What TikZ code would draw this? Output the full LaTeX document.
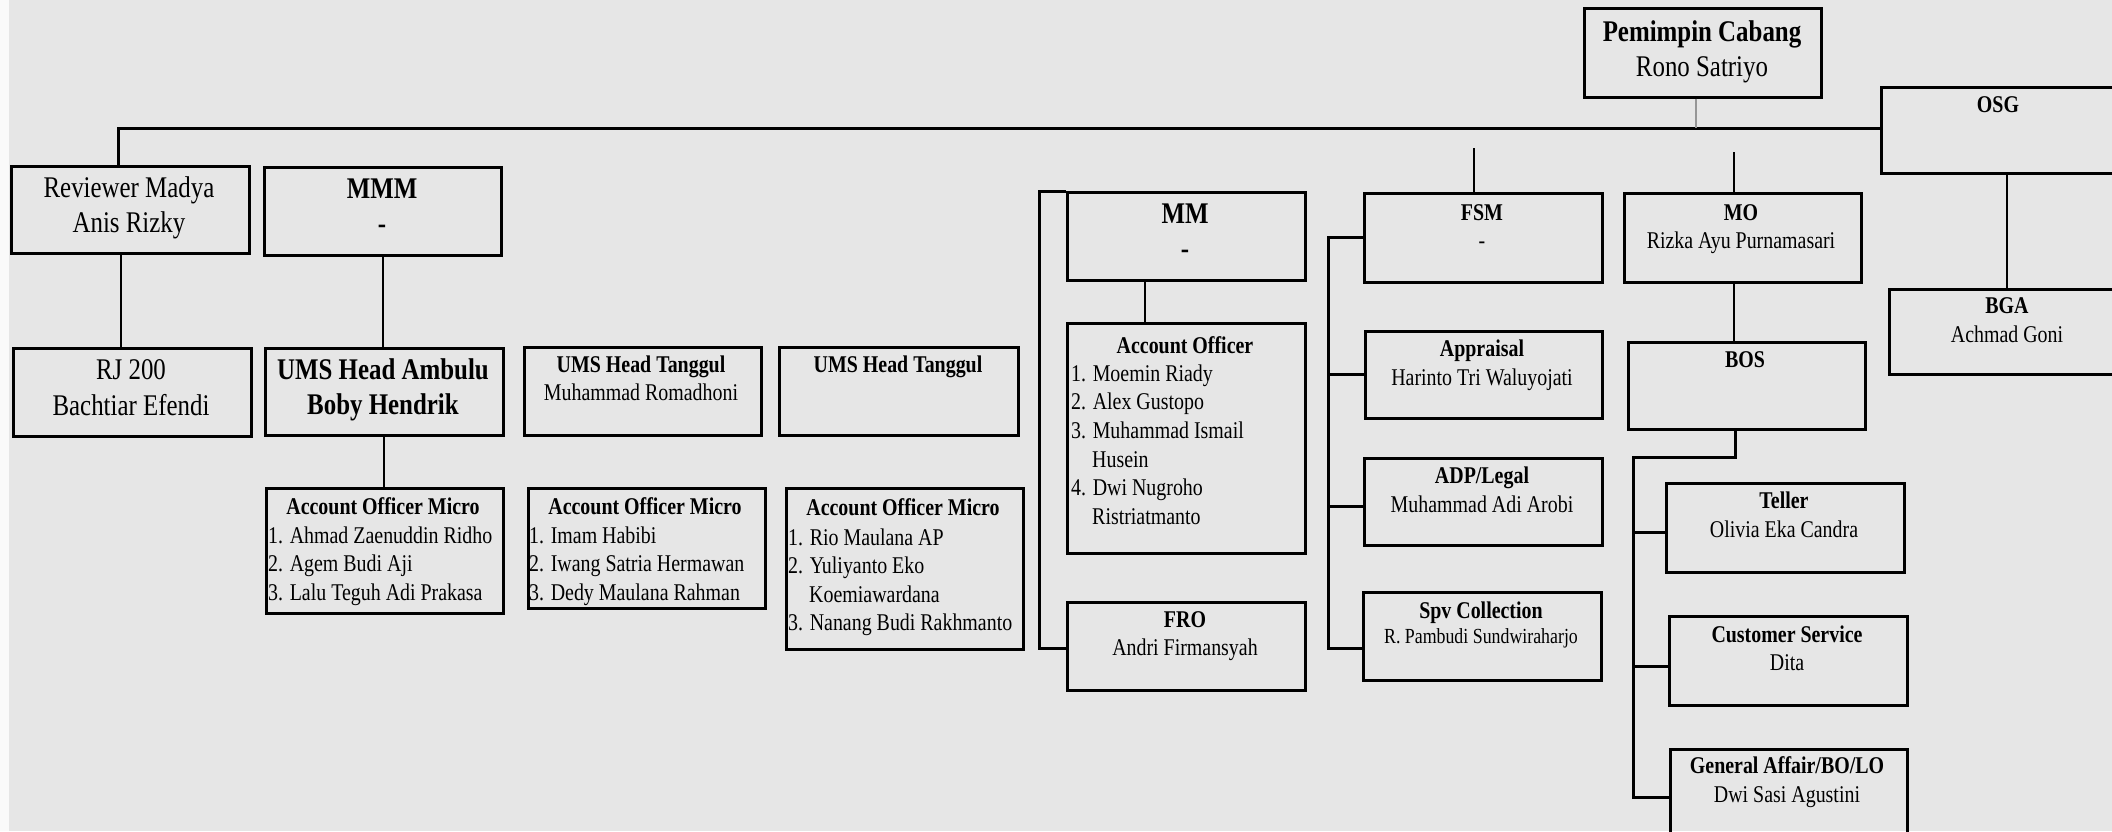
\documentclass[tikz,border=0pt]{standalone}
\usepackage{fontspec}
\setmainfont{Liberation Serif}[FakeStretch=0.83]
\begin{document}
\begin{tikzpicture}[x=1pt,y=-1pt,
  box/.style={draw=black, line width=2.6pt, inner sep=0pt, anchor=north west},
  conn/.style={draw=black, line width=2.4pt},
  bus/.style={draw=black, line width=3pt},
  tx/.style={inner sep=0pt, anchor=base, text=black},
  lst/.style={inner sep=0pt, anchor=base west, text=black},
  lg/.style={font=\fontsize{30}{35}\selectfont},
  sm/.style={font=\fontsize{24}{28.7}\selectfont},
  xs/.style={font=\fontsize{21.5}{25}\selectfont}]
\useasboundingbox (0,0) rectangle (2112,831);
\clip (0,0) rectangle (2112,831);
\fill[fill={rgb,255:red,230;green,230;blue,230}] (0,0) rectangle (2112,831);
\fill[fill={rgb,255:red,250;green,250;blue,250}] (0,0) rectangle (9,831);

% ---- boxes ----
\node[box, minimum width=237pt, minimum height=89pt] (pc) at (1583,7) {};
\node[box, minimum width=240pt, minimum height=86pt] (osg) at (1880,86) {};
\node[box, minimum width=240pt, minimum height=85pt] (bga) at (1888,288) {};
\node[box, minimum width=238pt, minimum height=87pt] (rev) at (10,165) {};
\node[box, minimum width=237pt, minimum height=88pt] (mmm) at (263,166) {};
\node[box, minimum width=238pt, minimum height=88pt] (rj) at (12,347) {};
\node[box, minimum width=238pt, minimum height=87pt] (amb) at (264,347) {};
\node[box, minimum width=237pt, minimum height=88pt] (tg1) at (523,346) {};
\node[box, minimum width=239pt, minimum height=88pt] (tg2) at (778,346) {};
\node[box, minimum width=237pt, minimum height=125pt] (aom1) at (265,487) {};
\node[box, minimum width=237pt, minimum height=120pt] (aom2) at (527,487) {};
\node[box, minimum width=237pt, minimum height=161pt] (aom3) at (785,487) {};
\node[box, minimum width=238pt, minimum height=88pt] (mm) at (1066,191) {};
\node[box, minimum width=238pt, minimum height=230pt] (ao) at (1066,322) {};
\node[box, minimum width=238pt, minimum height=88pt] (fro) at (1066,601) {};
\node[box, minimum width=238pt, minimum height=89pt] (fsm) at (1363,192) {};
\node[box, minimum width=237pt, minimum height=89pt] (mo) at (1623,192) {};
\node[box, minimum width=237pt, minimum height=87pt] (apr) at (1364,330) {};
\node[box, minimum width=238pt, minimum height=87pt] (adp) at (1363,457) {};
\node[box, minimum width=238pt, minimum height=88pt] (spv) at (1362,591) {};
\node[box, minimum width=237pt, minimum height=87pt] (bos) at (1627,341) {};
\node[box, minimum width=238pt, minimum height=89pt] (tel) at (1665,482) {};
\node[box, minimum width=238pt, minimum height=89pt] (cs) at (1668,615) {};
\node[box, minimum width=237pt, minimum height=100pt] (ga) at (1669,748) {};

% ---- texts, one line per node ----
\node[tx, lg] (pc-1) at (1702,41) {\textbf{Pemimpin Cabang}};
\node[tx, lg] (pc-2) at (1702,76) {Rono Satriyo};
\node[tx, sm] (osg-1) at (1998,112) {\textbf{OSG}};
\node[tx, sm] (bga-1) at (2007,313) {\textbf{BGA}};
\node[tx, sm] (bga-2) at (2007,342) {Achmad Goni};
\node[tx, lg] (rev-1) at (129,197) {Reviewer Madya};
\node[tx, lg] (rev-2) at (129,232) {Anis Rizky};
\node[tx, lg] (mmm-1) at (382,198) {\textbf{MMM}};
\node[tx, lg] (mmm-2) at (382,233) {\textbf{-}};
\node[tx, lg] (rj-1) at (131,379) {RJ 200};
\node[tx, lg] (rj-2) at (131,415) {Bachtiar Efendi};
\node[tx, lg] (amb-1) at (383,379) {\textbf{UMS Head Ambulu}};
\node[tx, lg] (amb-2) at (383,414) {\textbf{Boby Hendrik}};
\node[tx, sm] (tg1-1) at (641,372) {\textbf{UMS Head Tanggul}};
\node[tx, sm] (tg1-2) at (641,400) {Muhammad Romadhoni};
\node[tx, sm] (tg2-1) at (898,372) {\textbf{UMS Head Tanggul}};

\node[tx, sm] (aom1-0) at (383,514) {\textbf{Account Officer Micro}};
\node[lst, sm] (aom1-1) at (268,543) {1. Ahmad Zaenuddin Ridho};
\node[lst, sm] (aom1-2) at (268,571.5) {2. Agem Budi Aji};
\node[lst, sm] (aom1-3) at (268,600) {3. Lalu Teguh Adi Prakasa};
\node[tx, sm] (aom2-0) at (645,514) {\textbf{Account Officer Micro}};
\node[lst, sm] (aom2-1) at (529,543) {1. Imam Habibi};
\node[lst, sm] (aom2-2) at (529,571.5) {2. Iwang Satria Hermawan};
\node[lst, sm] (aom2-3) at (529,600) {3. Dedy Maulana Rahman};
\node[tx, sm] (aom3-0) at (903,515) {\textbf{Account Officer Micro}};
\node[lst, sm] (aom3-1) at (788,545) {1. Rio Maulana AP};
\node[lst, sm] (aom3-2) at (788,573.5) {2. Yuliyanto Eko};
\node[lst, sm] (aom3-3) at (809,602) {Koemiawardana};
\node[lst, sm] (aom3-4) at (788,630.5) {3. Nanang Budi Rakhmanto};

\node[tx, lg] (mm-1) at (1185,223) {\textbf{MM}};
\node[tx, lg] (mm-2) at (1185,258) {\textbf{-}};
\node[tx, sm] (ao-0) at (1185,353) {\textbf{Account Officer}};
\node[lst, sm] (ao-1) at (1071,381) {1. Moemin Riady};
\node[lst, sm] (ao-2) at (1071,409.7) {2. Alex Gustopo};
\node[lst, sm] (ao-3) at (1071,438.4) {3. Muhammad Ismail};
\node[lst, sm] (ao-4) at (1092,467.1) {Husein};
\node[lst, sm] (ao-5) at (1071,495.8) {4. Dwi Nugroho};
\node[lst, sm] (ao-6) at (1092,524.5) {Ristriatmanto};
\node[tx, sm] (fro-1) at (1185,627) {\textbf{FRO}};
\node[tx, sm] (fro-2) at (1185,655) {Andri Firmansyah};

\node[tx, sm] (fsm-1) at (1482,220) {\textbf{FSM}};
\node[tx, sm] (fsm-2) at (1482,248) {-};
\node[tx, sm] (mo-1) at (1741,220) {\textbf{MO}};
\node[tx, sm] (mo-2) at (1741,248) {Rizka Ayu Purnamasari};
\node[tx, sm] (apr-1) at (1482,356) {\textbf{Appraisal}};
\node[tx, sm] (apr-2) at (1482,385) {Harinto Tri Waluyojati};
\node[tx, sm] (adp-1) at (1482,483) {\textbf{ADP/Legal}};
\node[tx, sm] (adp-2) at (1482,512) {Muhammad Adi Arobi};
\node[tx, sm] (spv-1) at (1481,618) {\textbf{Spv Collection}};
\node[tx, xs] (spv-2) at (1481,643) {R. Pambudi Sundwiraharjo};
\node[tx, sm] (bos-1) at (1745,367) {\textbf{BOS}};
\node[tx, sm] (tel-1) at (1784,508) {\textbf{Teller}};
\node[tx, sm] (tel-2) at (1784,537) {Olivia Eka Candra};
\node[tx, sm] (cs-1) at (1787,642) {\textbf{Customer Service}};
\node[tx, sm] (cs-2) at (1787,670) {Dita};
\node[tx, sm] (ga-1) at (1787,773) {\textbf{General Affair/BO/LO}};
\node[tx, sm] (ga-2) at (1787,802) {Dwi Sasi Agustini};

% ---- connector guides ----
\coordinate (busL) at (118,128);
\coordinate (pcx) at (1696,0);
\coordinate (fsmtop) at (1474,148);
\coordinate (motop) at (1734,152);
\coordinate (revx) at (121,0);
\coordinate (mmx) at (1039,0);
\coordinate (aox) at (1145,0);
\coordinate (fsx) at (1328,0);
\coordinate (adpy) at (0,506);
\coordinate (spvy) at (0,648);
\coordinate (mox) at (1734,0);
\coordinate (bosx) at (1735,0);
\coordinate (bry) at (0,457);
\coordinate (brx) at (1633,0);
\coordinate (tely) at (0,532);
\coordinate (csy) at (0,666);
\coordinate (gay) at (0,797);
\coordinate (bgx) at (2007,0);

% ---- connectors ----
\draw[bus] (busL |- rev.north) -- (busL) -- (busL -| osg.west);
\draw[draw={rgb,255:red,150;green,150;blue,150}, line width=1.2pt] (pcx |- pc.south) -- (pcx |- busL);
\draw[conn] (fsmtop) -- (fsmtop |- fsm.north);
\draw[conn] (motop) -- (motop |- mo.north);
\draw[conn, line width=2pt] (revx |- rev.south) -- (revx |- rj.north);
\draw[conn, line width=2pt] (mmm.south) -- (mmm.south |- amb.north);
\draw[conn, line width=2pt] (amb.south) -- (amb.south |- aom1.north);
\draw[bus] (mm.north west) -- (mmx |- mm.north west) -- (mmx |- spvy) -- (fro.west |- spvy);
\draw[conn] (aox |- mm.south) -- (aox |- ao.north);
\draw[bus] (fsm.west) -- (fsx |- fsm.west) -- (fsx |- spvy) -- (spv.west |- spvy);
\draw[bus] (fsx |- apr.west) -- (apr.west);
\draw[bus] (fsx |- adpy) -- (adp.west |- adpy);
\draw[conn] (mox |- mo.south) -- (mox |- bos.north);
\draw[bus] (bosx |- bos.south) -- (bosx |- bry) -- (brx |- bry) -- (brx |- gay) -- (ga.west |- gay);
\draw[bus] (brx |- tely) -- (tel.west |- tely);
\draw[bus] (brx |- csy) -- (cs.west |- csy);
\draw[conn] (bgx |- osg.south) -- (bgx |- bga.north);
\end{tikzpicture}
\end{document}
